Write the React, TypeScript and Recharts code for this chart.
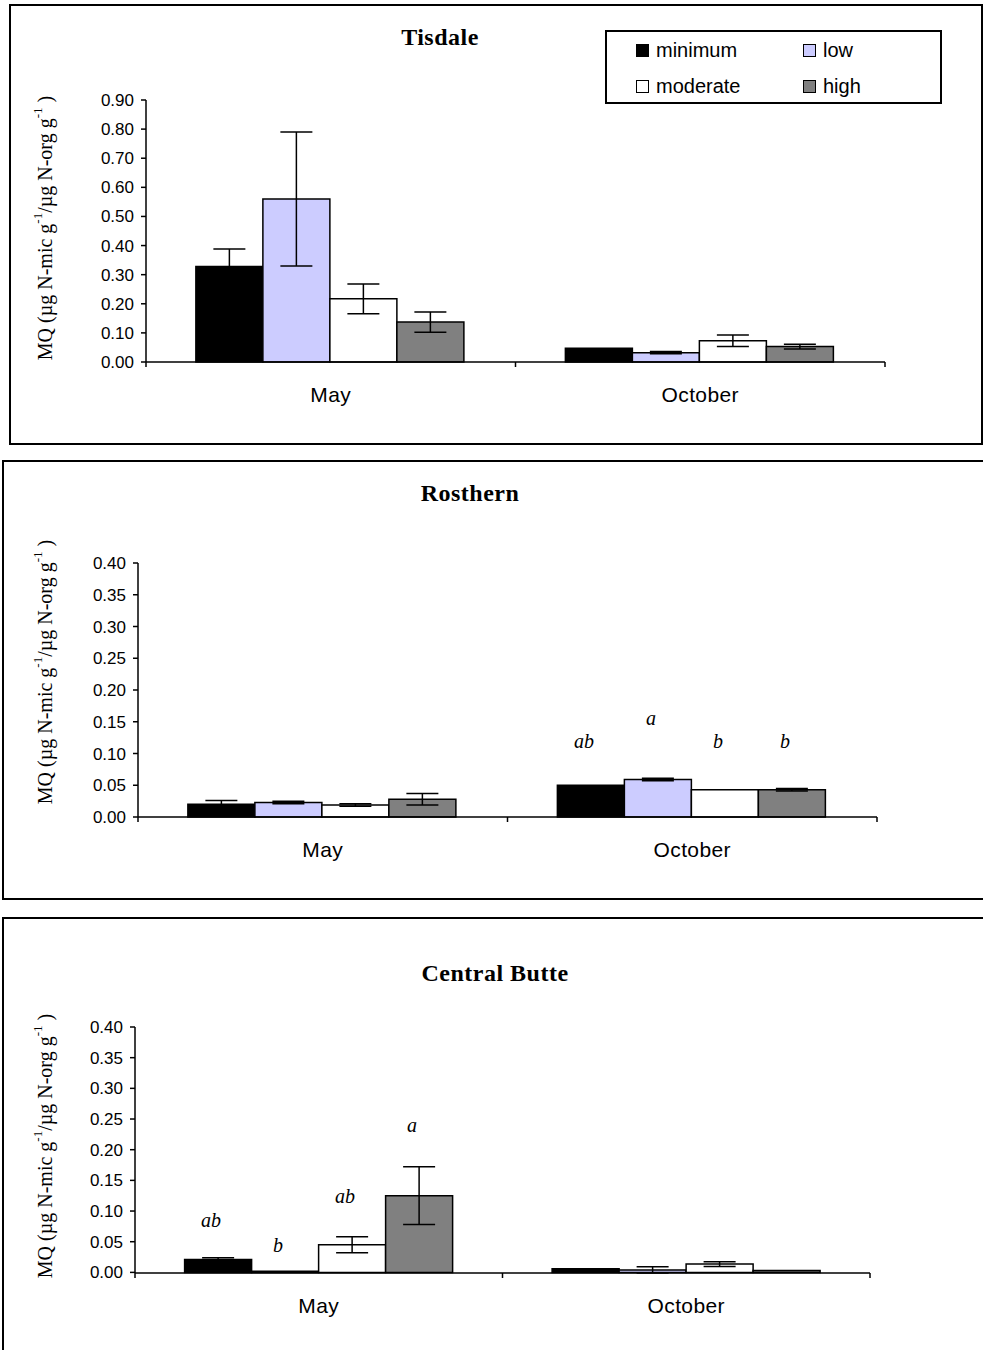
import React from 'react';
import { BarChart, Bar, XAxis, YAxis, ErrorBar, LabelList, Legend } from 'recharts';

const months = ['May', 'October'];
const levels = ['minimum', 'low', 'moderate', 'high'];
const levelColors = ['#000000', '#ccccff', '#ffffff', '#808080'];

// Tisdale  (May, October)
const tisdaleMinimum = [0.328, 0.047];
const tisdaleLow = [0.56, 0.032];
const tisdaleModerate = [0.217, 0.073];
const tisdaleHigh = [0.137, 0.053];
const tisdaleMinimumErr = [0.06, 0];
const tisdaleLowErr = [0.23, 0.004];
const tisdaleModerateErr = [0.051, 0.02];
const tisdaleHighErr = [0.035, 0.008];

// Rosthern
const rosthernMinimum = [0.02, 0.05];
const rosthernLow = [0.023, 0.059];
const rosthernModerate = [0.019, 0.043];
const rosthernHigh = [0.028, 0.043];
const rosthernMinimumErr = [0.006, 0];
const rosthernLowErr = [0.002, 0.002];
const rosthernModerateErr = [0.002, 0];
const rosthernHighErr = [0.009, 0.002];
const rosthernLetters = [['', 'ab'], ['', 'a'], ['', 'b'], ['', 'b']];
const rosthernLetterAt = [[0, 0.12], [0, 0.156], [0, 0.12], [0, 0.12]];

// Central Butte
const butteMinimum = [0.021, 0.006];
const butteLow = [0.002, 0.004];
const butteModerate = [0.045, 0.0135];
const butteHigh = [0.125, 0.003];
const butteMinimumErr = [0.003, 0];
const butteLowErr = [0, 0.005];
const butteModerateErr = [0.013, 0.004];
const butteHighErr = [0.047, 0];
const butteLetters = [['ab', ''], ['b', ''], ['ab', ''], ['a', '']];
const butteLetterAt = [[0.086, 0], [0.045, 0], [0.124, 0], [0.24, 0]];

const tisdaleTicks = [0, 0.1, 0.2, 0.3, 0.4, 0.5, 0.6, 0.7, 0.8, 0.9];
const smallTicks = [0, 0.05, 0.1, 0.15, 0.2, 0.25, 0.3, 0.35, 0.4];

const sans = '"Liberation Sans", Arial, sans-serif';
const serif = '"Liberation Serif", "Times New Roman", serif';

function buildRows(values: number[][], errs: number[][]) {
  return months.map((m, i) => {
    const row: any = { month: m };
    levels.forEach((lv, s) => {
      row[lv] = values[s][i];
      row[lv + 'Err'] = errs[s][i];
    });
    return row;
  });
}

const YLabel = (shift: number) => (p: any) => {
  const vb = p.viewBox || { x: 0, y: 0, width: 0, height: 0 };
  const cx = 45;
  const cy = vb.y + vb.height / 2 + shift;
  return (
    <text x={cx} y={cy} transform={`rotate(-90 ${cx} ${cy})`} textAnchor="middle" dominantBaseline="central"
      fontFamily={serif} fontSize={20} fill="#000">
      MQ (µg N-mic g<tspan dy={-8} fontSize={13}>-1</tspan>
      <tspan dy={8}>/µg N-org g</tspan>
      <tspan dy={-8} fontSize={13}>-1</tspan>
      <tspan dy={8}> )</tspan>
    </text>
  );
};

// category label plus a tick mark on the boundary to its right (and left for the first one)
const MonthTick = (p: any) => {
  const { x, y, payload } = p;
  const axisY = y - 25;
  const half = payload.offset || 0;
  return (
    <g>
      {payload.index === 0 && (
        <line x1={x - half} x2={x - half} y1={axisY} y2={axisY + 5} stroke="#000" strokeWidth={1.5} />
      )}
      <line x1={x + half} x2={x + half} y1={axisY} y2={axisY + 5} stroke="#000" strokeWidth={1.5} />
      <text x={x} y={y} dy="0.71em" textAnchor="middle" fontFamily={sans} fontSize={21} letterSpacing={0.4} fill="#000">
        {payload.value}
      </text>
    </g>
  );
};

const letterLabel = (vals: number[], letters: string[], at: number[]) => (p: any) => {
  const i = p.index;
  const letter = letters[i];
  if (!letter) return null;
  const vb = p.viewBox || p;
  const v = vals[i];
  if (!v || !vb.height) return null;
  const base = vb.y + vb.height;
  const ly = base - at[i] * (vb.height / v);
  return (
    <text x={vb.x + vb.width / 2 - 7} y={ly} textAnchor="middle" dominantBaseline="central"
      fontFamily={serif} fontStyle="italic" fontSize={20} fill="#000">
      {letter}
    </text>
  );
};

const LegendBox = () => (
  <div style={{
    width: 337, height: 74, border: '2px solid #000', boxSizing: 'border-box', background: '#fff',
    display: 'grid', gridTemplateColumns: '167px 140px', gridTemplateRows: '36px 36px',
    paddingLeft: 29, alignItems: 'center', fontFamily: sans, fontSize: 20, color: '#000',
  }}>
    {levels.map((lv, i) => (
      <div key={lv} style={{ display: 'flex', alignItems: 'center' }}>
        <span style={{ width: 11, height: 11, border: '1.2px solid #000', background: levelColors[i], marginRight: 7, display: 'inline-block' }} />
        {lv}
      </div>
    ))}
  </div>
);

type PanelProps = {
  title: string; titleX: number; titleY: number;
  values: number[][]; errs: number[][];
  yMax: number; ticks: number[];
  top: number; height: number; mTop: number; mBottom: number; yWidth: number; mRight: number;
  legend?: boolean; letters?: string[][]; letterAt?: number[][]; labelShift: number;
};

function Panel(props: PanelProps) {
  const rows = buildRows(props.values, props.errs);
  return (
    <>
      <div style={{ position: 'absolute', left: props.titleX, top: props.titleY, transform: 'translate(-50%, -50%)',
        fontFamily: serif, fontWeight: 'bold', fontSize: 24, letterSpacing: 0.5, whiteSpace: 'nowrap' }}>{props.title}</div>
      <div style={{ position: 'absolute', left: 0, top: props.top }}>
        <BarChart width={983} height={props.height} data={rows} barCategoryGap="13.5%" barGap={0}
          margin={{ top: props.mTop, right: props.mRight, bottom: props.mBottom, left: 0 }}
          style={{ fontFamily: sans }}>
          <XAxis dataKey="month" height={30} tickLine={false} tickSize={0} tickMargin={25}
            axisLine={{ stroke: '#000', strokeWidth: 1.5 }} tick={<MonthTick />} interval={0} />
          <YAxis width={props.yWidth} domain={[0, props.yMax]} ticks={props.ticks} interval={0}
            tickFormatter={(v: number) => v.toFixed(2)} tickSize={5} tickMargin={7}
            axisLine={{ stroke: '#000', strokeWidth: 1.5 }} tickLine={{ stroke: '#000', strokeWidth: 1.5 }}
            tick={{ fill: '#000', fontSize: 17 }} label={YLabel(props.labelShift)} />
          {props.legend && (
            <Legend layout="horizontal" verticalAlign="middle" align="center"
              wrapperStyle={{ left: 605, top: 30, width: 337, height: 74 }} content={<LegendBox />} />
          )}
          {levels.map((lv, s) => (
            <Bar key={lv} dataKey={lv} name={lv} fill={levelColors[s]} stroke="#000" strokeWidth={1.5}
              isAnimationActive={false}>
              <ErrorBar dataKey={lv + 'Err'} width={16} stroke="#000" strokeWidth={1.5} direction="y" />
              {props.letters && props.letterAt && (
                <LabelList content={letterLabel(props.values[s], props.letters[s], props.letterAt[s])} />
              )}
            </Bar>
          ))}
        </BarChart>
      </div>
    </>
  );
}

export default function App() {
  const box = { position: 'absolute' as const, border: '2.5px solid #000', boxSizing: 'border-box' as const };
  return (
    <div style={{ position: 'absolute', left: 0, top: 0, width: 983, height: 1350, background: '#fff', overflow: 'hidden' }}>
      <div style={{ ...box, left: 9, top: 4, width: 974, height: 441 }} />
      <div style={{ ...box, left: 2, top: 460, width: 1000, height: 440 }} />
      <div style={{ ...box, left: 2, top: 917, width: 1000, height: 460 }} />

      <Panel title="Tisdale" titleX={440} titleY={37}
        values={[tisdaleMinimum, tisdaleLow, tisdaleModerate, tisdaleHigh]}
        errs={[tisdaleMinimumErr, tisdaleLowErr, tisdaleModerateErr, tisdaleHighErr]}
        yMax={0.9} ticks={tisdaleTicks} top={0} height={445} mTop={100} mBottom={53} yWidth={146} mRight={98}
        legend labelShift={-3} />

      <Panel title="Rosthern" titleX={470} titleY={493}
        values={[rosthernMinimum, rosthernLow, rosthernModerate, rosthernHigh]}
        errs={[rosthernMinimumErr, rosthernLowErr, rosthernModerateErr, rosthernHighErr]}
        yMax={0.4} ticks={smallTicks} top={460} height={440} mTop={103} mBottom={53} yWidth={138} mRight={106}
        letters={rosthernLetters} letterAt={rosthernLetterAt} labelShift={-18} />

      <Panel title="Central Butte" titleX={495} titleY={973}
        values={[butteMinimum, butteLow, butteModerate, butteHigh]}
        errs={[butteMinimumErr, butteLowErr, butteModerateErr, butteHighErr]}
        yMax={0.4} ticks={smallTicks} top={917} height={433} mTop={110} mBottom={47} yWidth={135} mRight={113}
        letters={butteLetters} letterAt={butteLetterAt} labelShift={-4} />
    </div>
  );
}
